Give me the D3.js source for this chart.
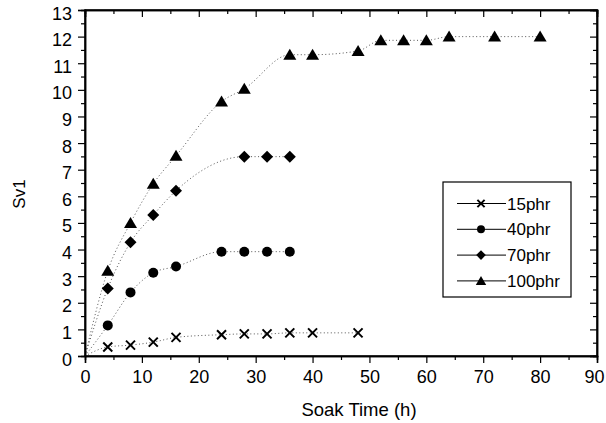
<!DOCTYPE html>
<html><head><meta charset="utf-8">
<script src="https://cdn.jsdelivr.net/npm/d3@7"></script>
<style>body{margin:0;background:#fff}svg{display:block}text{font-family:"Liberation Sans",Arial,sans-serif;fill:#000}</style>
</head><body><div id="c"></div>
<script>
const seriesNames = ["15phr","40phr","70phr","100phr"];
const times15 = [0,4,8,12,16,24,28,32,36,40,48];
const vals15  = [0,0.34,0.41,0.52,0.70,0.80,0.83,0.83,0.87,0.87,0.87];
const times40 = [0,4,8,12,16,24,28,32,36];
const vals40  = [0,1.15,2.39,3.13,3.36,3.92,3.92,3.92,3.92];
const times70 = [0,4,8,12,16,28,32,36];
const vals70  = [0,2.54,4.27,5.30,6.21,7.49,7.49,7.49];
const times100 = [0,4,8,12,16,24,28,36,40,48,52,56,60,64,72,80];
const vals100  = [0,3.2,5.0,6.47,7.52,9.56,10.04,11.32,11.32,11.46,11.86,11.86,11.86,12.0,12.0,12.0];
const xTicks = [0,10,20,30,40,50,60,70,80,90];
const yTicks = [0,1,2,3,4,5,6,7,8,9,10,11,12,13];
const xLabel = "Soak Time (h)";
const yLabel = "Sv1";

const W=606,H=423;
const m={l:85,r:9,t:10,b:67};
const svg=d3.select("#c").append("svg").attr("width",W).attr("height",H);
const x=d3.scaleLinear().domain([0,90]).range([m.l,W-m.r]);
const y=d3.scaleLinear().domain([0,13]).range([H-m.b,m.t]);
const symbols=["x","circle","diamond","triangle"];
const series=[[times15,vals15],[times40,vals40],[times70,vals70],[times100,vals100]].map((s,i)=>({name:seriesNames[i],sym:symbols[i],pts:s[0].map((t,j)=>[t,s[1][j]])}));

function drawSym(g,sym,cx,cy,k){
  k=k||1;
  if(sym==="x"){
    const s=4.5*k;
    g.append("path").attr("d",`M${cx-s},${cy-s}L${cx+s},${cy+s}M${cx-s},${cy+s}L${cx+s},${cy-s}`).attr("stroke","#000").attr("stroke-width",2).attr("fill","none");
  } else if(sym==="circle"){
    g.append("circle").attr("cx",cx).attr("cy",cy).attr("r",5*k).attr("fill","#000");
  } else if(sym==="diamond"){
    const s=6*k;
    g.append("path").attr("d",`M${cx},${cy-s}L${cx+s},${cy}L${cx},${cy+s}L${cx-s},${cy}Z`).attr("fill","#000");
  } else {
    g.append("path").attr("d",`M${cx},${cy-6*k}L${cx+6.5*k},${cy+5*k}L${cx-6.5*k},${cy+5*k}Z`).attr("fill","#000");
  }
}

const line=d3.line().x(d=>x(d[0])).y(d=>y(d[1])).curve(d3.curveMonotoneX);
const g=svg.append("g");
series.forEach(s=>{
  g.append("path").attr("d",line(s.pts)).attr("fill","none").attr("stroke","#555").attr("stroke-width",1).attr("stroke-dasharray","1,2.5");
});
series.forEach(s=>{
  s.pts.filter(p=>p[0]>0).forEach(p=>drawSym(g,s.sym,x(p[0]),y(p[1])));
});

// axes
const axB=svg.append("g").attr("transform",`translate(0,${H-m.b})`);
axB.call(d3.axisBottom(x).tickValues(xTicks).tickSize(7).tickPadding(7).tickFormat(d3.format("d")));
axB.append("g").call(d3.axisBottom(x).tickValues(d3.range(5,90,10)).tickSize(4).tickFormat(""));
axB.selectAll(".tick text").filter(d=>d===90).attr("dx","-3");
const axL=svg.append("g").attr("transform",`translate(${m.l},0)`);
axL.call(d3.axisLeft(y).tickValues(yTicks).tickSize(7).tickPadding(6).tickFormat(d3.format("d")));
axL.append("g").call(d3.axisLeft(y).tickValues(d3.range(0.5,13,1)).tickSize(4).tickFormat(""));
axL.selectAll(".tick text").attr("dy","0.5em");
const axT=svg.append("g").attr("transform",`translate(0,${m.t})`);
axT.call(d3.axisBottom(x).tickValues(xTicks).tickSize(7).tickFormat(""));
axT.append("g").call(d3.axisBottom(x).tickValues(d3.range(5,90,10)).tickSize(4).tickFormat(""));
const axR=svg.append("g").attr("transform",`translate(${W-m.r},0)`);
axR.call(d3.axisLeft(y).tickValues(yTicks).tickSize(7).tickFormat(""));
axR.append("g").call(d3.axisLeft(y).tickValues(d3.range(0.5,13,1)).tickSize(4).tickFormat(""));
svg.selectAll(".domain").attr("stroke","#000").attr("stroke-width",1.5);
svg.selectAll(".tick line").attr("stroke","#000").attr("stroke-width",1.2);
svg.selectAll(".tick text").style("font-size","18px").attr("fill","#000");
svg.append("rect").attr("x",m.l).attr("y",m.t).attr("width",W-m.r-m.l).attr("height",H-m.b-m.t).attr("fill","none").attr("stroke","#000").attr("stroke-width",1.5);

svg.append("text").attr("x",359).attr("y",416).attr("text-anchor","middle").style("font-size","18.5px").text(xLabel);
svg.append("text").attr("transform",`translate(25,194) rotate(-90)`).attr("text-anchor","middle").style("font-size","17px").text(yLabel);

// legend
const lg=svg.append("g");
lg.append("rect").attr("x",443).attr("y",182).attr("width",128).attr("height",115).attr("fill","#fff").attr("stroke","#000").attr("stroke-width",1.2);
series.forEach((s,i)=>{
  const ly=203.5+i*25.8;
  lg.append("line").attr("x1",457).attr("x2",506).attr("y1",ly).attr("y2",ly).attr("stroke","#000").attr("stroke-width",1);
  drawSym(lg,s.sym,481,ly,0.8);
  lg.append("text").attr("x",507).attr("y",ly+6).style("font-size","17px").text(s.name);
});
</script></body></html>
